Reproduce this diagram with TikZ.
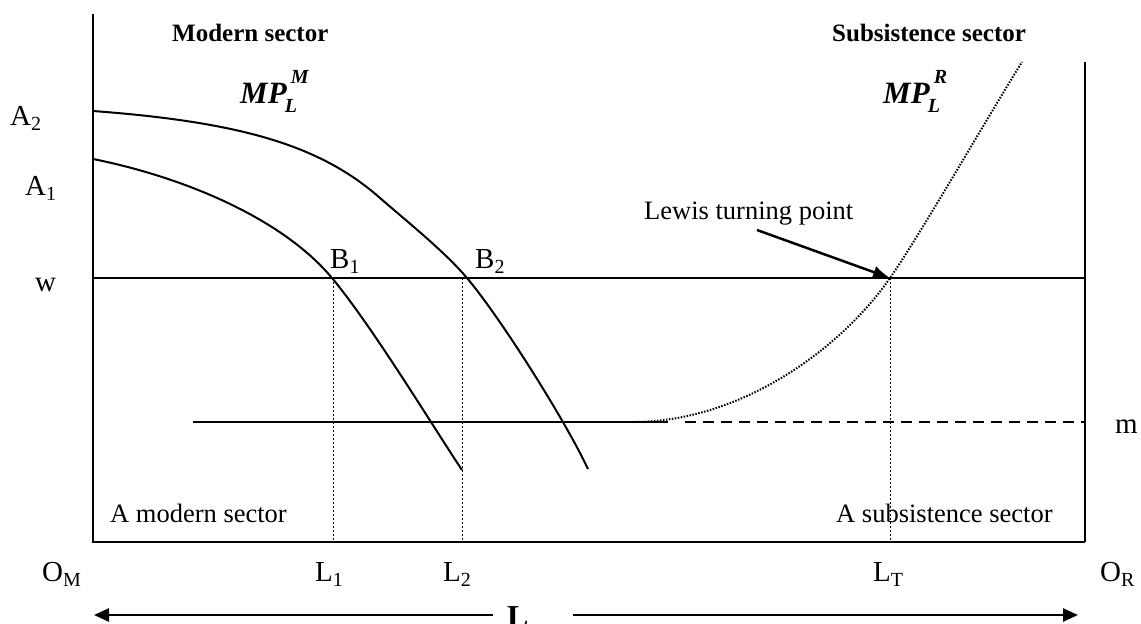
\documentclass[tikz,border=0pt]{standalone}
\usepackage{fontspec}
\setmainfont{Liberation Serif}
\usetikzlibrary{arrows.meta}
\newcommand{\lbsub}[2]{#1\raisebox{-0.2em}{\fontsize{20}{20}\selectfont #2}}
\newcommand{\mplab}[1]{\textbf{\textit{MP}}\kern-2pt\rlap{\raisebox{-0.3em}{\fontsize{20}{20}\selectfont\textbf{\textit{L}}}}\kern6pt\raisebox{0.62em}{\fontsize{20}{20}\selectfont\textbf{\textit{#1}}}}
\begin{document}
\begin{tikzpicture}[x=1pt,y=-1pt,
  axis/.style={line width=2pt},
  curve/.style={line width=2pt},
  guide/.style={line width=0.8pt, dash pattern=on 2pt off 2pt},
  lab/.style={font=\fontsize{29}{32}\selectfont, inner sep=0pt, anchor=base west},
  txt/.style={font=\fontsize{26.5}{30}\selectfont, inner sep=0pt, anchor=base west},
  head/.style={font=\fontsize{25}{30}\selectfont\bfseries, inner sep=0pt, anchor=base west},
  mp/.style={font=\fontsize{31}{34}\selectfont, inner sep=0pt, anchor=base west}]
\useasboundingbox (0,0) rectangle (1141,624);
\clip (0,0) rectangle (1141,624);
% axes
\coordinate (topL) at (93,14);
\coordinate (OM) at (93,542);
\coordinate (OR) at (1085,542);
\coordinate (topR) at (1085,62);
\draw[axis] (topL) -- (OM) -- (OR);
\draw[line width=2.6pt] (OR) -- (topR);
% wage line and subsistence line
\coordinate (w0) at (93,278);
\coordinate (w1) at (1085,278);
\draw[line width=2.8pt] (w0) -- (w1);
\coordinate (m0) at (193,422);
\coordinate (m1) at (668,422);
\coordinate (m2) at (685,422);
\coordinate (m3) at (1085,422);
\draw[line width=2pt] (m0) -- (m1);
\draw[line width=2pt, dash pattern=on 11pt off 7pt] (m2) -- (m3);
% guides
\coordinate (B1) at (333,278);
\coordinate (B2) at (462,278);
\coordinate (LTP) at (890,278);
\draw[guide] (B1) -- (333,542);
\draw[guide] (B2) -- (462,542);
\draw[guide] (LTP) -- (890,542);
% MP curves modern
\draw[curve] (93,159) .. controls (183,177) and (282,218) .. (332,278) .. controls (372,326) and (432,425) .. (462,470);
\draw[curve] (93,111) .. controls (240,122) and (320,145) .. (380,198) .. controls (410,224) and (445,252) .. (467,278) .. controls (500,317) and (565,420) .. (588,469);
% subsistence MP curve
\draw[line width=2pt, dash pattern=on 1.5pt off 1.5pt] (633,422) .. controls (740,422) and (840,350) .. (LTP) .. controls (920,235) and (990,113) .. (1022,62);
% labels
\node[head] (hm) at (172,41) {Modern sector};
\node[head] (hs) at (832,41) {Subsistence sector};
\node[mp] (mpm) at (240,103) {\mplab{M}};
\node[mp] (mpr) at (883,103) {\mplab{R}};
\node[lab] (a2) at (10,125) {\lbsub{A}{2}};
\node[lab] (a1) at (25,195) {\lbsub{A}{1}};
\node[lab] (wl) at (35,291) {w};
\node[lab] (b1) at (330,268) {\lbsub{B}{1}};
\node[lab] (b2) at (475,268) {\lbsub{B}{2}};
\node[lab] (ml) at (1115,433) {m};
\node[lab] (om) at (42,581) {\lbsub{O}{M}};
\node[lab] (l1) at (315,581) {\lbsub{L}{1}};
\node[lab] (l2) at (443,581) {\lbsub{L}{2}};
\node[lab] (lt) at (873,581) {\lbsub{L}{T}};
\node[lab] (or) at (1100,581) {\lbsub{O}{R}};
\node[txt] (ams) at (110,522) {A modern sector};
\node[txt] (ass) at (836,522) {A subsistence sector};
\node[txt] (lewis) at (644,219) {Lewis turning point};
\coordinate (lewisTail) at (757,230);
\draw[line width=2.5pt, -{Latex[length=17pt,width=13pt]}] (lewisTail) -- (LTP);
% total labour
\node[font=\fontsize{32}{34}\selectfont\bfseries, inner sep=0pt, anchor=base west] (Ltot) at (507,627) {L};
\coordinate (arL0) at (493,615);
\coordinate (arL1) at (94,615);
\coordinate (arR0) at (573,615);
\coordinate (arR1) at (1078,615);
\draw[line width=2.5pt, -{Triangle[length=15pt,width=13pt]}] (arL0) -- (arL1);
\draw[line width=2.5pt, -{Triangle[length=15pt,width=13pt]}] (arR0) -- (arR1);
\end{tikzpicture}
\end{document}
